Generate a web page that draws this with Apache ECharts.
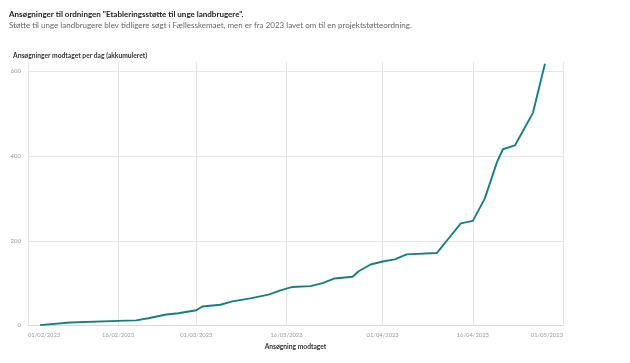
<!DOCTYPE html>
<html>
<head>
<meta charset="utf-8">
<script src="https://cdn.jsdelivr.net/npm/echarts@6/dist/echarts.min.js"></script>
<style>
html,body{margin:0;padding:0;background:#fff;}
#c{width:630px;height:363px;}
</style>
</head>
<body>
<div id="c"></div>
<script>
// ---- Data ----
var titleText = 'Ansøgninger til ordningen "Etableringsstøtte til unge landbrugere".';
var subtitleText = 'Støtte til unge landbrugere blev tidligere søgt i Fællesskemaet, men er fra 2023 lavet om til en projektstøtteordning.';
var yTitle = 'Ansøgninger modtaget per dag (akkumuleret)';
var xTitle = 'Ansøgning modtaget';

var axisStart = '01/02/2023';
var axisEnd = '01/05/2023';
var xTickLabels = ['01/02/2023','16/02/2023','01/03/2023','16/03/2023','01/04/2023','16/04/2023','01/05/2023'];
var yTickValues = [0, 200, 400, 600];

var dates = ['03/02/2023','08/02/2023','16/02/2023','19/02/2023','21/02/2023','24/02/2023','26/02/2023',
  '01/03/2023','02/03/2023','05/03/2023','07/03/2023','10/03/2023','13/03/2023','15/03/2023','17/03/2023',
  '20/03/2023','22/03/2023','24/03/2023','27/03/2023','28/03/2023','30/03/2023',
  '01/04/2023','03/04/2023','05/04/2023','10/04/2023','12/04/2023','14/04/2023','16/04/2023','18/04/2023',
  '20/04/2023','21/04/2023','23/04/2023','26/04/2023','28/04/2023'];
var values = [1, 7, 11, 12, 17, 26, 29,
  36, 45, 49, 57, 64, 73, 83, 91,
  93, 100, 111, 115, 128, 144,
  151, 156, 168, 171, 206, 241, 247, 300,
  385, 416, 425, 502, 618];

// ---- Build category axis (one category per day) ----
function parseD(s){var p=s.split('/');return new Date(Date.UTC(+p[2],+p[1]-1,+p[0]));}
function fmt(d){var dd=('0'+d.getUTCDate()).slice(-2),mm=('0'+(d.getUTCMonth()+1)).slice(-2);return dd+'/'+mm+'/'+d.getUTCFullYear();}
var categories = [];
for (var t = parseD(axisStart).getTime(); t <= parseD(axisEnd).getTime(); t += 86400000) {
  categories.push(fmt(new Date(t)));
}
var seriesData = dates.map(function(d, i){ return [d, values[i]]; });
function isTick(idx, val){ return xTickLabels.indexOf(val) >= 0; }

var FONT = 'Lato';
var chart = echarts.init(document.getElementById('c'), null, {renderer: 'canvas'});
chart.setOption({
  animation: false,
  backgroundColor: '#fff',
  textStyle: {fontFamily: FONT},
  title: {
    left: 4, top: 5,
    text: titleText,
    subtext: subtitleText,
    itemGap: 3,
    textStyle: {fontFamily: FONT, fontSize: 8, fontWeight: 'bold', color: '#222'},
    subtextStyle: {fontFamily: FONT, fontSize: 8, color: '#666'}
  },
  graphic: [{
    type: 'text', left: 13, top: 52,
    style: {text: yTitle, fontFamily: FONT, fontSize: 6.7, fontWeight: 'bold', fill: '#333'}
  }],
  grid: {left: 28, right: 67, top: 62, bottom: 37.5, containLabel: false},
  xAxis: {
    type: 'category',
    data: categories,
    boundaryGap: false,
    name: xTitle,
    nameLocation: 'middle',
    nameGap: 18,
    nameTextStyle: {fontFamily: FONT, fontSize: 6.7, fontWeight: 'bold', color: '#333'},
    axisLine: {show: true, lineStyle: {color: '#d8d8d8', width: 1}},
    axisTick: {show: false},
    axisLabel: {
      interval: isTick,
      color: '#9a9a9a', fontSize: 5.8, margin: 7,
      alignMinLabel: 'left', alignMaxLabel: 'right',
      formatter: function(v){ return v; }
    },
    splitLine: {show: true, interval: isTick, lineStyle: {color: '#e6e6e6', width: 1}}
  },
  yAxis: {
    type: 'value',
    min: 0, max: 622, interval: 200,
    axisLine: {show: false},
    axisTick: {show: false},
    axisLabel: {
      color: '#9a9a9a', fontSize: 6, margin: 7,
      showMaxLabel: false,
      formatter: function(v){ return yTickValues.indexOf(v) >= 0 ? String(v) : ''; }
    },
    splitLine: {show: true, showMaxLine: false, lineStyle: {color: '#e6e6e6', width: 1}}
  },
  series: [{
    type: 'line',
    data: seriesData,
    showSymbol: false,
    symbol: 'none',
    clip: false,
    lineStyle: {color: '#17807f', width: 1.9},
    itemStyle: {color: '#17807f'}
  }]
});
</script>
</body>
</html>
